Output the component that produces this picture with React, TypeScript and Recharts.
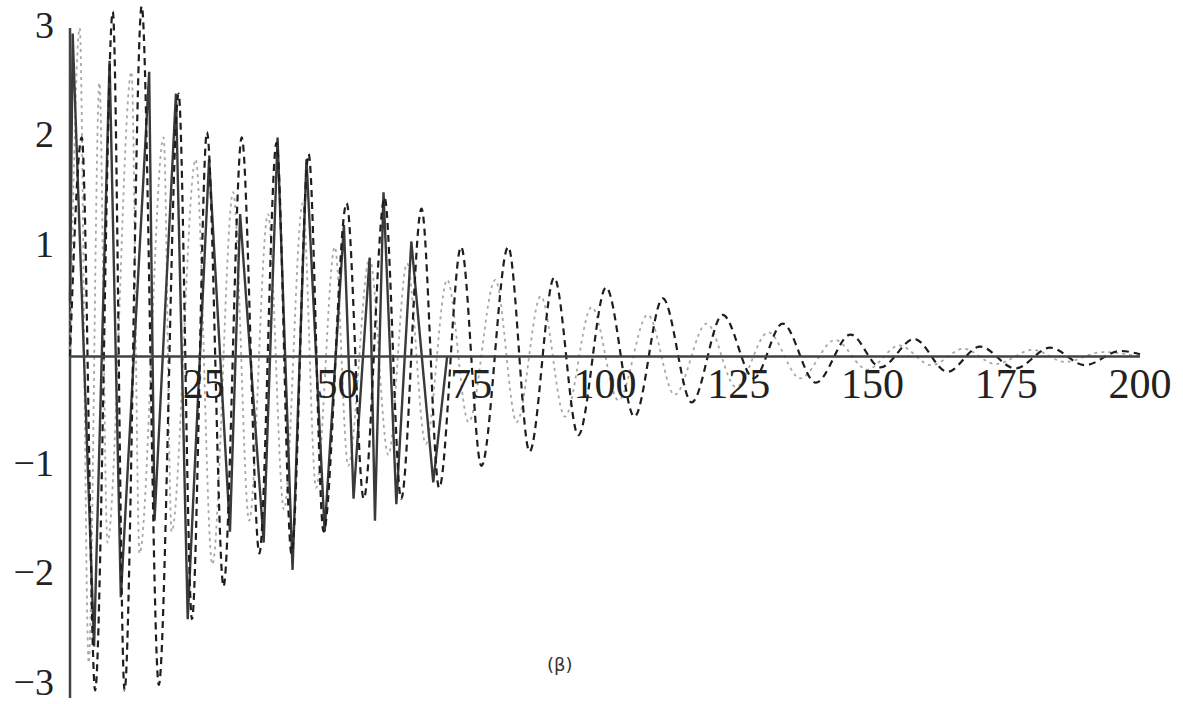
import { LineChart, Line, XAxis, YAxis, ReferenceLine, ReferenceDot, Label } from 'recharts';

// ─── Data: extrema of the three damped responses (x, value) ─────────────────

const dashedX = [0, 2.2, 4.7, 8.0, 10.2, 13.4, 16.6, 20.3, 22.8, 25.6, 28.7, 32.1, 35.4, 38.6, 41.4, 44.6, 47.4, 51.7, 54.9, 58.8, 61.9, 65.7, 69.0, 73.1, 76.9, 81.9, 85.9, 90.5, 95.0, 100.2, 105.5, 110.8, 116.2, 122.0, 127.8, 133.2, 139.4, 145.9, 151.5, 157.8, 164.0, 170.1, 176.7, 183.2, 189.7, 196.3, 200];
const dashedY = [0, 2.0, -3.05, 3.15, -3.05, 3.2, -3.0, 2.4, -2.4, 2.05, -2.1, 2.0, -1.8, 1.95, -1.8, 1.85, -1.6, 1.4, -1.3, 1.45, -1.3, 1.35, -1.2, 1.0, -1.0, 1.0, -0.87, 0.72, -0.72, 0.63, -0.55, 0.53, -0.42, 0.38, -0.2, 0.3, -0.24, 0.2, -0.1, 0.16, -0.14, 0.09, -0.11, 0.08, -0.08, 0.05, 0.02];

const solidX = [0, 0.5, 4.5, 7.4, 9.5, 14.8, 15.8, 19.8, 22.0, 26.0, 29.9, 31.8, 36.2, 38.8, 41.6, 44.2, 47.6, 51.2, 53.0, 56.0, 57.0, 58.6, 61.0, 63.8, 67.9, 70.5];
const solidY = [0.5, 2.95, -2.65, 2.7, -2.2, 2.6, -1.5, 2.4, -2.4, 1.8, -1.6, 1.3, -1.7, 2.0, -1.95, 1.8, -1.6, 1.2, -1.3, 0.9, -1.5, 1.5, -1.35, 1.05, -1.15, 0];

const dottedX = [0, 1.8, 3.5, 5.5, 7.0, 11.5, 13.0, 17.5, 19.0, 23.5, 26.6, 30.5, 33.5, 37.0, 40.0, 43.5, 46.0, 49.5, 52.0, 56.0, 59.5, 63.0, 66.5, 70.5, 74.5, 79.5, 83.5, 88.0, 92.5, 97.5, 102.5, 108.0, 113.0, 119.0, 124.5, 130.5, 136.5, 143.0, 149.0, 155.0, 161.0, 167.0, 173.0, 180.0, 186.0, 193.0, 200];
const dottedY = [0, 3, -2.8, 2.5, -1.7, 2.6, -1.8, 2.0, -1.6, 1.8, -1.9, 1.5, -1.5, 1.3, -1.4, 1.4, -1.2, 1.0, -1.0, 0.9, -0.9, 0.85, -0.8, 0.7, -0.6, 0.7, -0.6, 0.55, -0.55, 0.45, -0.4, 0.38, -0.35, 0.3, -0.28, 0.22, -0.2, 0.15, -0.12, 0.1, -0.08, 0.07, -0.07, 0.06, -0.05, 0.04, 0];

const xTicks = [25, 50, 75, 100, 125, 150, 175, 200];
const yTicks = [-3, -2, -1, 1, 2, 3];

const toPoints = (xs: number[], ys: number[]) => xs.map((x, i) => ({ x, y: ys[i] }));

const dashed = toPoints(dashedX, dashedY);
const solid = toPoints(solidX, solidY);
const dotted = toPoints(dottedX, dottedY);

const SERIF = '"Liberation Serif", "DejaVu Serif", serif';

const YTick = ({ x, y, payload }: any) => (
  <text x={x - 16} y={y - 3} textAnchor="end" dominantBaseline="central" fontSize={38} fontFamily={SERIF} fill="#222">
    {String(payload.value).replace('-', '\u2212')}
  </text>
);

export default function App() {
  return (
    <div style={{ position: 'absolute', left: 0, top: 0, width: 1183, height: 704, background: '#fff' }}>
      <LineChart width={1183} height={704} margin={{ top: 5, right: 43, bottom: 6, left: 0 }}>
        <XAxis type="number" dataKey="x" domain={[0, 200]} hide allowDuplicatedCategory={false} />
        <YAxis
          type="number"
          domain={[-3.12, 3.21]}
          ticks={yTicks}
          width={70}
          allowDataOverflow
          tickLine={false}
          tickSize={0}
          tickMargin={0}
          axisLine={false}
          tick={<YTick />}
        />
        <ReferenceLine segment={[{ x: 0, y: -3.12 }, { x: 0, y: 3 }]} stroke="#3c4448" strokeWidth={2.5} />
        <Line data={dotted} dataKey="y" type="monotone" stroke="#a8a8a8" strokeWidth={1.8} strokeDasharray="3 4" dot={false} isAnimationActive={false} />
        <Line data={solid} dataKey="y" type="linear" stroke="#3a3a3a" strokeWidth={2.4} dot={false} isAnimationActive={false} />
        <Line data={dashed} dataKey="y" type="monotone" stroke="#1e1e1e" strokeWidth={2.2} strokeDasharray="7 5" dot={false} isAnimationActive={false} />
        <ReferenceLine y={0} stroke="#3c4448" strokeWidth={2.5} />
        {xTicks.map((t) => (
          <ReferenceDot key={t} x={t} y={0} r={0} fill="none" stroke="none">
            <Label value={String(t)} position="bottom" offset={12} fontSize={42} fontFamily={SERIF} fill="#222" />
          </ReferenceDot>
        ))}
      </LineChart>
      <div style={{ position: 'absolute', left: 547, top: 654, fontSize: 18, fontFamily: '"DejaVu Sans", sans-serif', color: '#333' }}>
        (β)
      </div>
    </div>
  );
}
